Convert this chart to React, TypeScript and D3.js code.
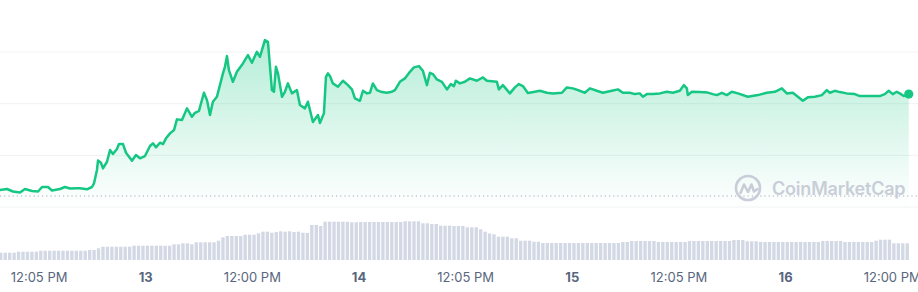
import React from 'react';
import * as d3 from 'd3';

// Price series: time in hours since day 12 00:00, price in arbitrary units
const priceHours = [
  7.60, 8.39, 9.06, 9.85, 10.41, 11.20, 11.88, 12.33, 13.00, 13.45,
  14.35, 14.91, 15.48, 16.26, 16.60, 17.39, 17.95, 18.18, 18.51, 18.63,
  18.96, 19.19, 19.64, 19.98, 20.31, 20.76, 20.99, 21.44, 21.78, 22.45,
  22.90, 23.35, 23.91, 24.48, 24.81, 25.15, 25.60, 25.94, 26.28, 26.73,
  27.18, 27.51, 28.08, 28.64, 29.20, 29.54, 29.99, 30.55, 30.89, 31.23,
  31.56, 32.01, 32.35, 32.69, 32.91, 33.14, 33.36, 33.81, 34.26, 34.94,
  35.50, 35.95, 36.51, 36.85, 37.41, 37.75, 38.20, 38.43, 38.65, 38.88,
  39.33, 39.66, 40.00, 40.45, 41.01, 41.35, 41.91, 42.25, 42.81, 43.38,
  43.60, 44.05, 44.28, 44.50, 44.73, 45.06, 45.63, 46.19, 46.75, 47.20,
  47.54, 48.10, 48.44, 48.89, 49.23, 49.56, 50.01, 50.58, 51.14, 51.70,
  52.04, 52.60, 53.16, 53.73, 54.18, 54.74, 55.19, 55.64, 55.98, 56.31,
  56.76, 57.33, 57.89, 58.34, 58.68, 58.90, 59.35, 59.91, 60.48, 61.26,
  61.94, 62.39, 63.51, 63.74, 64.19, 64.98, 65.54, 65.99, 66.44, 67.00,
  67.79, 68.35, 69.14, 69.81, 70.83, 71.39, 72.06, 72.85, 73.41, 73.98,
  74.76, 75.44, 76.45, 77.13, 77.69, 78.48, 79.04, 79.60, 79.94, 80.39,
  81.06, 81.85, 82.64, 83.31, 84.10, 84.55, 84.89, 85.00, 85.45, 86.35,
  87.25, 87.81, 88.26, 88.83, 89.39, 89.95, 90.63, 91.75, 92.88, 93.89,
  94.79, 95.58, 96.14, 96.81, 97.38, 97.94, 98.50, 99.29, 100.08, 100.64,
  100.98, 101.54, 102.10, 102.89, 103.79, 104.35, 105.48, 106.60, 107.16, 107.61,
  108.06, 108.51, 108.85, 109.30, 109.86,
];

const priceValues = [
  43.29, 43.48, 43.00, 42.80, 43.48, 43.09, 43.00, 43.87, 43.87, 43.19,
  43.48, 43.87, 43.58, 43.62, 43.62, 43.42, 43.87, 44.58, 47.16, 48.99,
  48.57, 47.48, 48.76, 51.02, 50.25, 51.22, 52.18, 52.18, 50.50, 48.95,
  50.06, 49.42, 49.86, 51.80, 52.32, 51.55, 52.44, 52.18, 53.29, 54.25,
  54.89, 56.96, 56.83, 59.09, 57.46, 58.24, 58.62, 62.11, 60.69, 57.79,
  60.37, 61.33, 63.59, 65.86, 67.13, 69.20, 66.50, 64.23, 66.17, 67.79,
  69.40, 67.91, 70.04, 69.07, 72.30, 71.97, 62.63, 62.30, 67.13, 65.86,
  61.33, 62.30, 63.92, 61.99, 62.63, 59.73, 59.09, 60.37, 56.44, 57.79,
  56.25, 58.12, 65.20, 65.86, 65.34, 63.92, 63.27, 64.43, 63.59, 62.76,
  61.02, 60.56, 62.49, 61.99, 62.11, 63.92, 62.63, 62.24, 62.11, 62.30,
  62.63, 64.23, 64.89, 66.17, 67.02, 67.27, 66.36, 63.59, 65.97, 65.72,
  64.70, 64.23, 62.76, 63.79, 63.40, 64.43, 63.92, 64.23, 64.89, 64.43,
  65.08, 64.43, 64.23, 62.76, 63.59, 61.99, 63.15, 63.79, 63.40, 62.05,
  62.30, 62.49, 62.11, 61.99, 62.11, 63.15, 62.96, 62.49, 62.11, 62.96,
  62.49, 62.11, 62.49, 62.76, 62.11, 62.11, 61.85, 61.99, 61.33, 61.85,
  61.85, 61.99, 62.30, 62.11, 62.49, 63.59, 62.96, 61.66, 62.30, 62.24,
  62.14, 61.85, 61.66, 62.11, 61.66, 62.30, 61.99, 61.33, 61.66, 62.11,
  62.30, 62.96, 61.99, 62.11, 61.33, 60.56, 61.22, 61.33, 61.66, 62.63,
  62.11, 62.49, 62.24, 61.99, 61.85, 61.47, 61.47, 61.47, 61.85, 62.49,
  61.85, 62.30, 61.99, 61.47, 61.85,
];

// Volume: one bar every half hour starting at hour 7.5
const volumeStartHour = 7.5;
const volumeStepHours = 0.5;
const volumeValues = [
  14.6, 14.6, 14.6, 14.6,
  16.6, 16.6, 16.6, 16.6, 16.6,
  18.6, 18.6, 18.6, 18.6, 18.6, 18.6, 18.6, 18.6, 18.6, 18.6, 18.6,
  20, 20, 23.4,
  26.6, 26.6, 26.6, 26.6, 26.6, 26.6, 26.6,
  28.6, 28.6, 28.6, 28.6, 28.6, 28.6, 28.6, 28.6, 28.6,
  31.4, 31.4, 33.4, 33.4, 31.4,
  35.4, 35.4, 35.4, 35.4, 35.4,
  38.6, 45.4, 48, 48, 48, 48,
  50.6, 50.6, 50.6, 53.4, 56.6, 56.6, 54.6,
  56, 57.4, 56.6, 57.4, 56, 56.6,
  54.6, 54, 70, 70, 68,
  76.6, 76.6, 76.6, 76.6, 76.6, 76.6,
  75.4, 75.4,
  76, 76, 76, 76, 76, 76, 76, 76, 76, 76,
  77.4, 77.4, 77.4, 77.4,
  73.4, 73.4, 72, 72,
  68.6, 68.6, 68.6, 68, 68, 68,
  65.4, 65.4, 65.4, 61.4, 56.6, 53, 51.4,
  46.6, 46.6, 46.6, 43.4, 43.4,
  38.6, 38.6, 38.6, 36.6, 36.6,
  34, 34, 34, 34, 34, 34, 34, 34, 34, 34, 34, 34, 34, 34, 34, 34, 34, 34,
  36, 36,
  38, 38, 38, 38, 38, 38,
  36, 36, 36, 36, 36, 36, 36,
  38, 38, 38, 38, 38, 38, 38, 38, 38, 38,
  40, 40, 40, 37.4, 37.4, 37.4,
  36, 36, 36, 36, 36, 36, 36, 36, 36, 36, 36, 36, 36, 36,
  38, 38, 38, 38, 38,
  36, 36, 36, 36, 36, 36, 36,
  38.6, 40.6, 40.6, 40.6,
  33.4, 33.4, 33.4, 33.4,
];

const gridValues = [40, 50, 60, 70];
const referencePrice = 42.13;

const tickHours = [12, 24, 36, 48, 60, 72, 84, 96, 108];
const tickLabels = ['12:05 PM', '13', '12:00 PM', '14', '12:05 PM', '15', '12:05 PM', '16', '12:00 PM'];
const tickIsDay = [false, true, false, true, false, true, false, true, false];

const GREEN = '#16c784';

export default function App() {
  const W = 918;
  const H = 292;
  const x = d3.scaleLinear().domain([7.6, 110.9]).range([0, W]);
  const y = d3.scaleLinear().domain([40, 70]).range([207, 52]);
  const vy = d3.scaleLinear().domain([0, 100]).range([260, 210]);

  const n = Math.min(priceHours.length, priceValues.length);
  const data = d3.range(n).map((i) => ({ h: priceHours[i], p: priceValues[i] }));

  const line = d3
    .line<{ h: number; p: number }>()
    .x((d) => x(d.h))
    .y((d) => y(d.p));
  const area = d3
    .area<{ h: number; p: number }>()
    .x((d) => x(d.h))
    .y0(y(40))
    .y1((d) => y(d.p));

  const last = data[data.length - 1];
  const pMax = d3.max(data, (d) => d.p) as number;

  return (
    <svg
      width={W}
      height={H}
      style={{ position: 'absolute', left: 0, top: 0, background: '#fff' }}
      fontFamily="Inter, 'Noto Sans', sans-serif"
    >
      <defs>
        <linearGradient id="areaGrad" x1="0" y1={y(pMax)} x2="0" y2={y(40)} gradientUnits="userSpaceOnUse">
          <stop offset="0" stopColor={GREEN} stopOpacity={0.32} />
          <stop offset="1" stopColor={GREEN} stopOpacity={0.0} />
        </linearGradient>
      </defs>

      {gridValues.map((g) => (
        <line key={g} x1={0} x2={W} y1={y(g)} y2={y(g)} stroke="#eff2f5" strokeWidth={1} />
      ))}

      {volumeValues.map((v, k) => {
        const t = volumeStartHour + k * volumeStepHours;
        const x0 = x(t);
        const w = x(t + volumeStepHours) - x0 - 1.1;
        return <rect key={k} x={x0} y={vy(v)} width={w} height={vy(0) - vy(v)} fill="#d3d8e5" />;
      })}

      <path d={area(data) || ''} fill="url(#areaGrad)" />

      <line
        x1={0}
        x2={W}
        y1={y(referencePrice)}
        y2={y(referencePrice)}
        stroke="#a6acbd"
        strokeWidth={1}
        strokeDasharray="1.2 3"
      />

      <g opacity={0.9}>
        <circle cx={748} cy={188} r={12} fill="none" stroke="#c4c9d5" strokeWidth={2.6} />
        <polyline
          points="740.5,193 744,184.5 748,192 751.5,184.5 754,191.5 757.5,189"
          fill="none"
          stroke="#c4c9d5"
          strokeWidth={2.6}
          strokeLinejoin="round"
          strokeLinecap="round"
        />
        <text x={772} y={195} fontSize={18} letterSpacing={-0.2} fontWeight={600} fill="#c4c9d5">
          CoinMarketCap
        </text>
      </g>

      <path d={line(data) || ''} fill="none" stroke={GREEN} strokeWidth={2.5} strokeLinejoin="round" strokeLinecap="round" />
      <circle cx={x(last.h)} cy={y(last.p)} r={4.6} fill={GREEN} />

      {tickHours.map((h, i) => (
        <text
          key={i}
          x={x(h)}
          y={282}
          textAnchor="middle"
          fontSize={13}
          fontWeight={tickIsDay[i] ? 700 : 400}
          fill="#58667e"
        >
          {tickLabels[i]}
        </text>
      ))}
    </svg>
  );
}
